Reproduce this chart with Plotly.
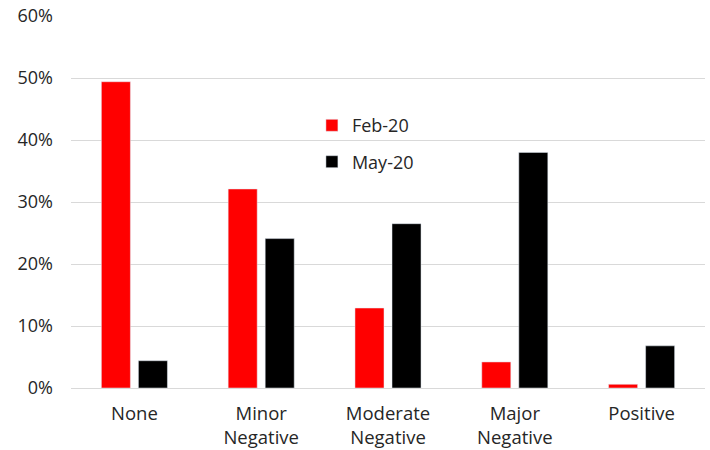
import plotly.graph_objects as go

# Share of respondents by expected impact
categories = ["None", "Minor<br>Negative", "Moderate<br>Negative", "Major<br>Negative", "Positive"]
feb_20 = [0.494, 0.321, 0.129, 0.042, 0.006]
may_20 = [0.044, 0.241, 0.265, 0.380, 0.068]
y_ticks = [0, 0.1, 0.2, 0.3, 0.4, 0.5, 0.6]

font_family = "Open Sans, Noto Sans, sans-serif"
text_color = "#262626"
grid_color = "#d9d9d9"

fig = go.Figure()
fig.add_trace(go.Bar(name="Feb-20", x=categories, y=feb_20, marker_color="#ff0000",
                     legendgroup="feb"))
fig.add_trace(go.Bar(name="May-20", x=categories, y=may_20, marker_color="#000000",
                     legendgroup="may"))

fig.update_layout(
    width=710, height=450,
    margin=dict(l=71, r=5, t=16, b=61.5),
    paper_bgcolor="white", plot_bgcolor="white",
    barmode="group", bargap=0.416, bargroupgap=0.216,
    font=dict(family=font_family, size=18, color=text_color),
    legend=dict(x=0.38, y=0.657, xanchor="left", yanchor="middle",
                bgcolor="rgba(0,0,0,0)", font=dict(size=18),
                traceorder="grouped", tracegroupgap=10),
    xaxis=dict(showgrid=False, showline=False, ticks="", ticklabelstandoff=12,
               tickfont=dict(size=18.5), automargin=False),
    yaxis=dict(range=[0, 0.6], tickvals=y_ticks, tickformat=".0%",
               showgrid=True, gridcolor=grid_color, gridwidth=1.3,
               zeroline=True, zerolinecolor=grid_color, zerolinewidth=1.3,
               showline=False, ticks="", ticklabelstandoff=17,
               tickfont=dict(size=18), automargin=False),
)

fig.write_html("out.html")
